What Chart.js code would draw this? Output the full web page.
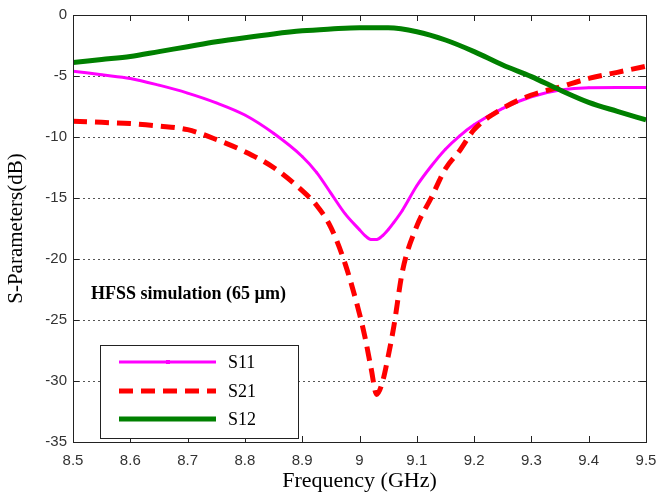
<!DOCTYPE html>
<html>
<head>
<meta charset="utf-8">
<script src="https://cdn.jsdelivr.net/npm/chart.js@4"></script>
<style>
  html, body { margin: 0; padding: 0; background: #fff; }
  #wrap { width: 671px; height: 496px; }
</style>
</head>
<body>
<div id="wrap"><canvas id="sparamChart"></canvas></div>
<script>
/* ---------- data ---------- */
const freqs = [8.5, 8.55, 8.6, 8.65, 8.7, 8.75, 8.8, 8.85, 8.9, 8.925, 8.95, 8.975,
               9.0, 9.01, 9.02, 9.03, 9.04, 9.05, 9.06, 9.075, 9.1, 9.125, 9.15,
               9.175, 9.2, 9.25, 9.3, 9.35, 9.4, 9.45, 9.5];

const s11 = [-4.6, -4.9, -5.2, -5.75, -6.4, -7.2, -8.2, -9.7, -11.6, -12.9, -14.6, -16.3,
             -17.6, -18.1, -18.4, -18.4, -18.1, -17.6, -17.0, -16.0, -14.0, -12.4, -11.0,
             -9.9, -9.0, -7.65, -6.7, -6.15, -5.96, -5.95, -5.95];

const s21 = [-8.7, -8.8, -8.9, -9.1, -9.4, -10.2, -11.2, -12.5, -14.4, -15.6, -17.4, -20.4,
             -24.5, -26.5, -28.9, -31.1, -30.1, -28.0, -25.5, -21.0, -17.3, -15.0, -12.6,
             -11.1, -9.4, -7.65, -6.56, -5.9, -5.2, -4.7, -4.2];

const freqsS12 = [8.5, 8.55, 8.6, 8.65, 8.7, 8.75, 8.8, 8.85, 8.9, 8.95, 9.0, 9.05,
                  9.1, 9.15, 9.2, 9.25, 9.3, 9.35, 9.4, 9.45, 9.5];
const s12 = [-3.9, -3.65, -3.4, -3.0, -2.6, -2.2, -1.86, -1.55, -1.3, -1.15, -1.04, -1.05,
             -1.37, -2.05, -3.0, -4.1, -5.05, -6.15, -7.16, -7.9, -8.6];

const xTicks = [8.5, 8.6, 8.7, 8.8, 8.9, 9.0, 9.1, 9.2, 9.3, 9.4, 9.5];
const yTicks = [0, -5, -10, -15, -20, -25, -30, -35];

const seriesNames = ["S11", "S21", "S12"];
const annotationText = "HFSS simulation (65 \u00b5m)";
const yTitle = "S-Parameters(dB)";
const xTitle = "Frequency (GHz)";

/* ---------- helpers ---------- */
const toPoints = (xs, ys) => xs.map((x, i) => ({ x: x, y: ys[i] }));
const serif = "'Liberation Serif', 'Times New Roman', serif";
const sans = "'Liberation Sans', Arial, sans-serif";

/* frame, inward ticks, legend box and annotation, MATLAB style */
const matlabFrame = {
    id: "matlabFrame",
    afterDraw(chart) {
        const ctx = chart.ctx;
        const a = chart.chartArea;
        const xs = chart.scales.x;
        const ys = chart.scales.y;

        ctx.save();
        ctx.strokeStyle = "#222";
        ctx.lineWidth = 1;
        ctx.strokeRect(a.left + 0.5, a.top + 0.5, a.right - a.left, a.bottom - a.top);

        ctx.beginPath();
        xTicks.forEach(v => {
            const px = Math.round(xs.getPixelForValue(v)) + 0.5;
            ctx.moveTo(px, a.bottom); ctx.lineTo(px, a.bottom - 6);
            ctx.moveTo(px, a.top); ctx.lineTo(px, a.top + 6);
        });
        yTicks.forEach(v => {
            const py = Math.round(ys.getPixelForValue(v)) + 0.5;
            ctx.moveTo(a.left, py); ctx.lineTo(a.left + 6, py);
            ctx.moveTo(a.right, py); ctx.lineTo(a.right - 6, py);
        });
        ctx.stroke();

        // y axis title
        ctx.fillStyle = "#000";
        ctx.save();
        ctx.translate(16, (a.top + a.bottom) / 2);
        ctx.rotate(-Math.PI / 2);
        ctx.font = "21px " + serif;
        ctx.textAlign = "center";
        ctx.textBaseline = "middle";
        ctx.fillText(yTitle, 0, 0);
        ctx.restore();

        // annotation
        ctx.font = "bold 18px " + serif;
        ctx.textBaseline = "middle";
        ctx.textAlign = "left";
        ctx.fillText(annotationText, 91, 294);

        // legend
        const box = { x: 100.5, y: 345.5, w: 198, h: 93 };
        ctx.fillStyle = "#fff";
        ctx.fillRect(box.x, box.y, box.w, box.h);
        ctx.strokeStyle = "#222";
        ctx.lineWidth = 1;
        ctx.strokeRect(box.x, box.y, box.w, box.h);

        const rows = [362, 391, 419];
        chart.data.datasets.forEach((ds, r) => {
            const y = rows[r];
            ctx.beginPath();
            ctx.strokeStyle = ds.borderColor;
            ctx.lineWidth = ds.borderWidth;
            ctx.setLineDash(ds.borderDash || []);
            ctx.moveTo(119, y);
            ctx.lineTo(216, y);
            ctx.stroke();
            ctx.setLineDash([]);
            if (r === 0) {
                ctx.fillStyle = ds.borderColor;
                ctx.fillRect(166, y - 2, 4, 4);
            }
            ctx.fillStyle = "#000";
            ctx.font = "18px " + serif;
            ctx.fillText(ds.label, 228, y + 1);
        });
        ctx.restore();
    }
};

new Chart(document.getElementById("sparamChart"), {
    type: "line",
    data: {
        datasets: [
            {
                label: seriesNames[0],
                data: toPoints(freqs, s11),
                borderColor: "#FF00FF",
                backgroundColor: "#FF00FF",
                borderWidth: 3,
                pointRadius: 1.5,
                pointStyle: "rect",
                pointBorderWidth: 0,
                cubicInterpolationMode: "monotone",
                order: 2
            },
            {
                label: seriesNames[1],
                data: toPoints(freqs, s21),
                borderColor: "#FF0000",
                backgroundColor: "#FF0000",
                borderWidth: 5,
                borderDash: [14, 8],
                pointRadius: 0,
                cubicInterpolationMode: "monotone",
                order: 1
            },
            {
                label: seriesNames[2],
                data: toPoints(freqsS12, s12),
                borderColor: "#008000",
                backgroundColor: "#008000",
                borderWidth: 5,
                pointRadius: 0,
                cubicInterpolationMode: "monotone",
                order: 0
            }
        ]
    },
    options: {
        responsive: true,
        maintainAspectRatio: false,
        animation: false,
        layout: { padding: { left: 0, top: 15, right: 25, bottom: 0 } },
        plugins: {
            legend: { display: false },
            tooltip: { enabled: false }
        },
        scales: {
            x: {
                type: "linear",
                min: 8.5,
                max: 9.5,
                afterFit: s => { s.height = 54; },
                afterBuildTicks: s => { s.ticks = xTicks.map(v => ({ value: v })); },
                grid: { display: false },
                border: { display: false },
                ticks: {
                    color: "#333",
                    font: { family: sans, size: 15 },
                    padding: 2,
                    maxRotation: 0,
                    autoSkip: false,
                    callback: v => (Math.round(v * 10) / 10).toString()
                },
                title: {
                    display: true,
                    text: xTitle,
                    color: "#000",
                    font: { family: serif, size: 22 },
                    padding: { top: 0, bottom: 2 }
                }
            },
            y: {
                type: "linear",
                min: -35,
                max: 0,
                afterFit: s => { s.width = 73; },
                afterBuildTicks: s => { s.ticks = yTicks.map(v => ({ value: v })); },
                grid: {
                    drawTicks: false,
                    color: ctx => (ctx.tick && (ctx.tick.value === 0 || ctx.tick.value === -35)) ? "rgba(0,0,0,0)" : "#555",
                    lineWidth: 1
                },
                border: { display: false, dash: [2, 3] },
                ticks: {
                    color: "#333",
                    font: { family: sans, size: 15 },
                    padding: 6,
                    autoSkip: false
                },
                title: { display: false }
            }
        }
    },
    plugins: [matlabFrame]
});
</script>
</body>
</html>
